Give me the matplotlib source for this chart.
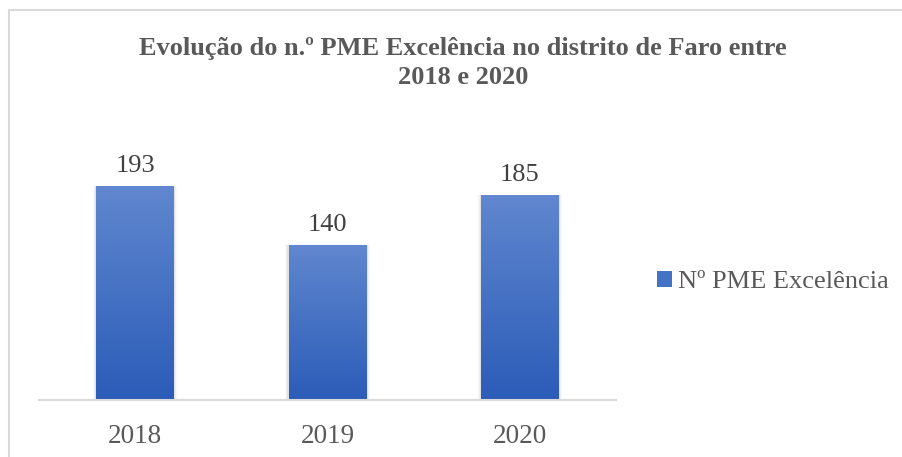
import matplotlib
matplotlib.use("Agg")
import matplotlib.pyplot as plt
import numpy as np
from matplotlib.patches import Rectangle
from matplotlib.colors import LinearSegmentedColormap

years = ["2018", "2019", "2020"]
values = [193, 140, 185]
series_name = "Nº PME Excelência"
title = "Evolução do n.º PME Excelência no distrito de Faro entre\n2018 e 2020"

plt.rcParams['font.family'] = ['Liberation Serif', 'DejaVu Serif']

W, H = 902, 457
fig = plt.figure(figsize=(W/100, H/100), dpi=100)
ax = fig.add_axes([39/W, 1-400/H, (616-39)/W, (400-124)/H])

top_col = "#6087cf"
bot_col = "#2b5cb8"
cmap = LinearSegmentedColormap.from_list("g", [bot_col, top_col])
x = np.arange(len(years))
bw = 0.405
bars = ax.bar(x, values, width=bw, color='none', lw=0, zorder=2)
grad = np.linspace(0, 1, 256).reshape(-1, 1)
for b, v in zip(bars, values):
    x0 = b.get_x()
    im = ax.imshow(grad, cmap=cmap, aspect='auto', origin='lower',
                   extent=[x0, x0 + bw, 0, v], zorder=3)
    # soft shadow
    for k, a in enumerate([0.06, 0.04, 0.02]):
        d = 0.006 * (k + 1)
        ax.add_patch(Rectangle((x0 - d, 0), bw + 2*d, v + d*60, color='black',
                               alpha=a, lw=0, zorder=1))
    ax.text(b.get_x() + bw/2, v + 9, str(v), ha='center', va='bottom',
            fontsize=19, color='#404040', zorder=4)

ax.set_xlim(-0.5, 2.5)
ax.set_ylim(0, 250)
ax.set_xticks(x)
ax.set_xticklabels(years, fontsize=19.5, color='#595959')
ax.tick_params(axis='x', length=0, pad=17)
ax.set_yticks([])
for s in ['top', 'right', 'left']:
    ax.spines[s].set_visible(False)
ax.spines['bottom'].set_color('#d9d9d9')
ax.spines['bottom'].set_linewidth(1.5)
ax.spines['bottom'].set_zorder(5)

handle = Rectangle((0, 0), 1, 1, facecolor='#4472c4')
fig.legend([handle], [series_name], loc='center left',
           bbox_to_anchor=(646/W, 1-282/H), frameon=False,
           fontsize=19, labelcolor='#595959', handlelength=0.6,
           handleheight=0.6, handletextpad=0.2, borderaxespad=0)

fig.text(463/W, 1-63/H, title, ha='center', va='center', fontsize=19,
         fontweight='bold', color='#595959', linespacing=1.3)

fig.patches.append(Rectangle((9/W, -0.1), 1.2, 1 - 10/H + 0.1,
                             transform=fig.transFigure, fill=False,
                             edgecolor='#d9d9d9', lw=1.5))

fig.savefig("out.png", dpi=100)
